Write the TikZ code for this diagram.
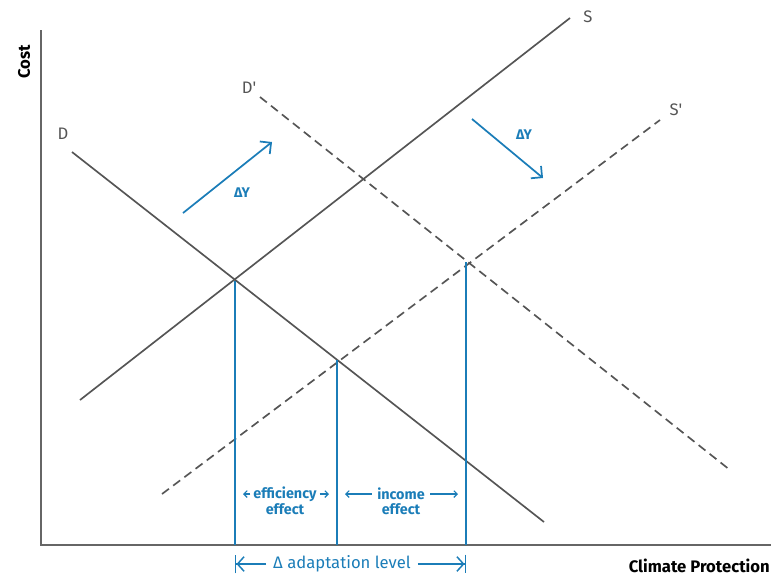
\documentclass[tikz,border=0pt]{standalone}
\usepackage{fontspec}
\setmainfont{Fira Sans}
\usetikzlibrary{arrows.meta}

\definecolor{curvegray}{HTML}{555555}
\definecolor{effblue}{HTML}{1B7DB8}

\tikzset{
    axis/.style={draw=curvegray!90, line width=1.5pt},
    axislabel/.style={font=\fontsize{12.5}{14}\selectfont\bfseries, text=black, inner sep=0pt},
    curve/.style={draw=curvegray, line width=1.25pt},
    shifted/.style={curve, dash pattern=on 6.5pt off 4pt},
    curvelabel/.style={font=\fontsize{12.5}{14}\selectfont, text=curvegray, inner sep=0pt},
    level/.style={draw=effblue, line width=1.4pt},
    shiftarrow/.style={draw=effblue, line width=1.3pt, -{Straight Barb[length=6pt, width=12pt, line width=1.3pt]}},
    shiftlabel/.style={font=\fontsize{10.5}{12}\selectfont\bfseries, text=effblue, inner sep=0pt},
    efftext/.style={font=\fontsize{10.8}{12}\selectfont\bfseries, text=effblue, inner sep=0pt},
    effarrow/.style={draw=effblue, line width=0.9pt, -{Straight Barb[length=2.5pt, width=5pt]}, shorten >=6pt},
    dimtext/.style={font=\fontsize{12.5}{14}\selectfont, text=effblue, inner sep=0pt},
    dimarrow/.style={draw=effblue, line width=1.1pt, -{Straight Barb[length=5pt, width=11pt] Bar[width=14pt]}}
}

\begin{document}
\begin{tikzpicture}[x=0.75pt, y=-0.75pt]
    \useasboundingbox (0,0) rectangle (771,576);

    % --- Axes ---
    \coordinate (ytop) at (41,30);
    \coordinate (orig) at (41,545);
    \coordinate (xend) at (771,545);
    \draw[axis] (ytop) |- (xend);
    \node[axislabel, rotate=90] (cost) at (24,62) {Cost};
    \node[axislabel, anchor=east] (climate) at (770,566) {Climate Protection};

    % --- Supply and demand ---
    \coordinate (s1) at (80,400);   \coordinate (s2) at (570,18);
    \coordinate (d1) at (72,152);   \coordinate (d2) at (544,522);
    \coordinate (dd1) at (260,97);  \coordinate (dd2) at (730,470);
    \coordinate (ss1) at (162,494); \coordinate (ss2) at (660,120);
    \draw[curve] (s1) -- (s2);
    \draw[curve] (d1) -- (d2);
    \draw[shifted] (dd1) -- (dd2);
    \draw[shifted] (ss1) -- (ss2);
    \node[curvelabel] (slab) at (588,17) {S};
    \node[curvelabel] (dlab) at (63,134) {D};
    \node[curvelabel] (ddlab) at (249,88) {D\textquotesingle};
    \node[curvelabel] (sslab) at (676,110) {S\textquotesingle};

    % --- Shift arrows ---
    \coordinate (up1) at (183,213);   \coordinate (up2) at (272,142);
    \coordinate (down1) at (472,119); \coordinate (down2) at (543,178);
    \draw[shiftarrow] (up1) -- (up2);
    \draw[shiftarrow] (down1) -- (down2);
    \node[shiftlabel] (dy1) at (242,193) {ΔY};
    \node[shiftlabel] (dy2) at (524,135) {ΔY};

    % --- Equilibria ---
    \coordinate (eq1) at (235,281);
    \coordinate (eq2) at (337,360);
    \coordinate (eq3) at (466,262);
    \draw[level] (eq1) -- (eq1 |- orig);
    \draw[level] (eq2) -- (eq2 |- orig);
    \draw[level] (eq3) -- (eq3 |- orig);

    % --- Effects ---
    \node[efftext] (eff) at (285,494) {efficiency};
    \node[efftext] (effb) at (285,509) {effect};
    \node[efftext] (inc) at (401,494) {income};
    \node[efftext] (incb) at (401,509) {effect};
    \draw[effarrow] ([xshift=-2pt]eff.west) -- (eff.west -| eq1);
    \draw[effarrow] ([xshift=2pt]eff.east) -- (eff.east -| eq2);
    \draw[effarrow] ([xshift=-4pt]inc.west) -- (inc.west -| eq2);
    \draw[effarrow] ([xshift=4pt]inc.east) -- (inc.east -| eq3);

    % --- Adaptation level ---
    \node[dimtext] (dim) at (342,564) {Δ adaptation level};
    \draw[dimarrow] ([xshift=-5pt]dim.west) -- (dim.west -| eq1);
    \draw[dimarrow] ([xshift=5pt]dim.east) -- (dim.east -| eq3);
\end{tikzpicture}
\end{document}
